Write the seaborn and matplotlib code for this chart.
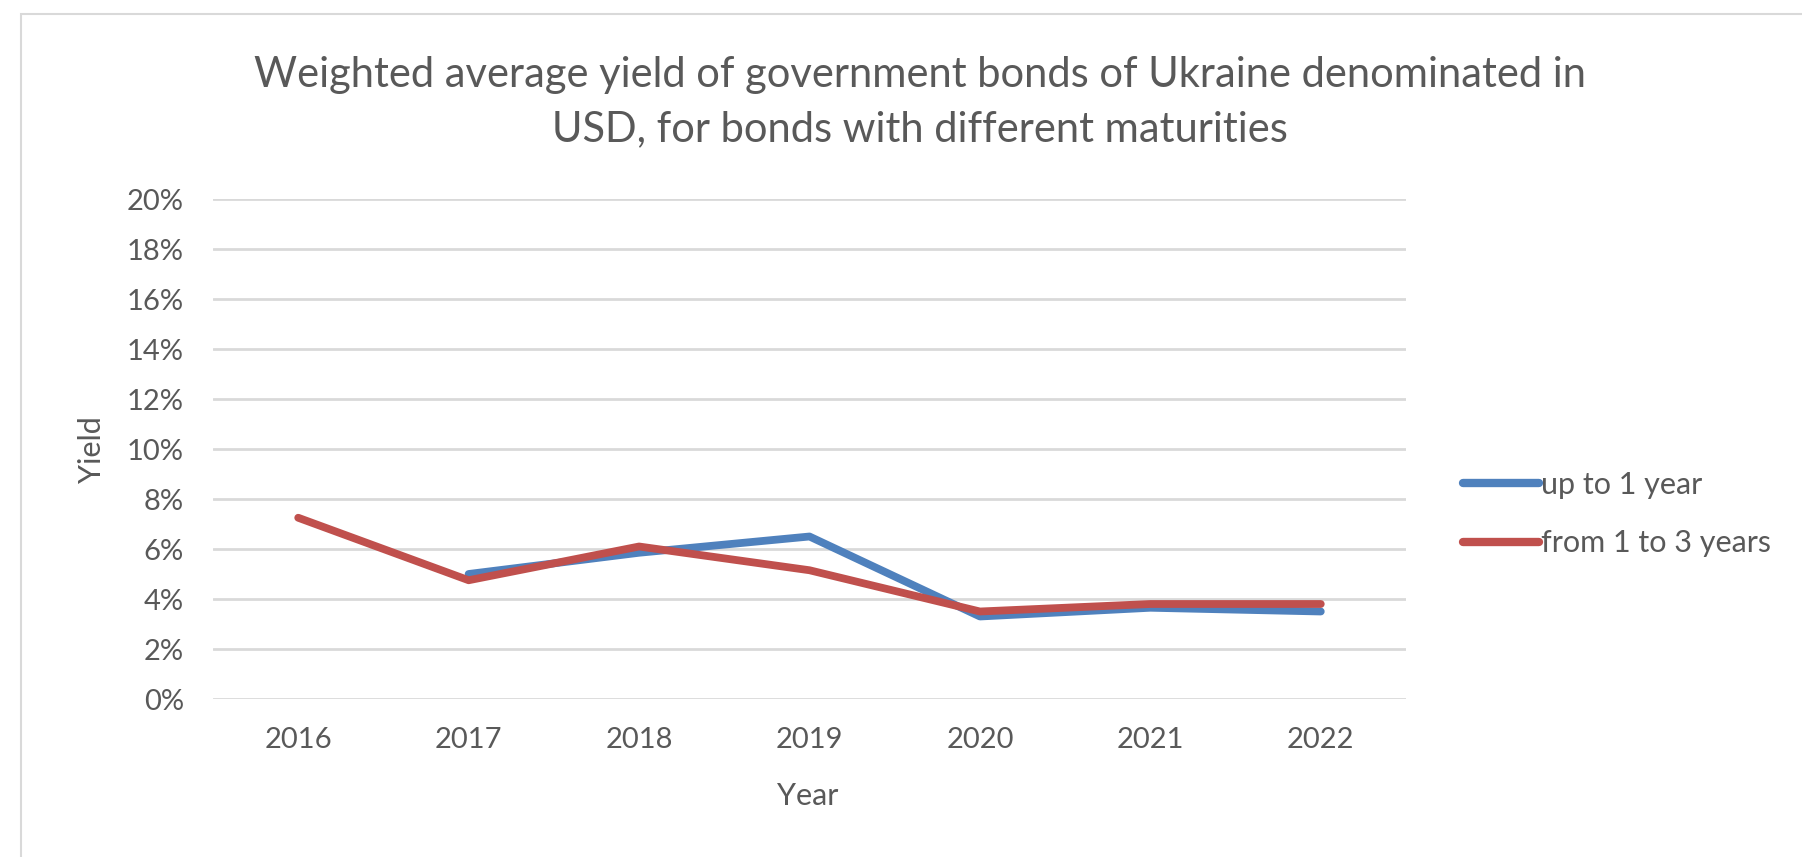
import numpy as np
import pandas as pd
import matplotlib
matplotlib.use("Agg")
import matplotlib.pyplot as plt
import seaborn as sns
from matplotlib.patches import Rectangle
from matplotlib.lines import Line2D

years = ["2016", "2017", "2018", "2019", "2020", "2021", "2022"]
up_to_1_year = [np.nan, 5.0, 5.85, 6.5, 3.3, 3.65, 3.5]
from_1_to_3_years = [7.25, 4.75, 6.1, 5.15, 3.5, 3.8, 3.8]
series_names = ["up to 1 year", "from 1 to 3 years"]
y_ticks = [0, 2, 4, 6, 8, 10, 12, 14, 16, 18, 20]

sns.set_theme(style="white")
plt.rcParams["font.family"] = ["Lato", "DejaVu Sans"]

df = pd.DataFrame({
    "Year": years * 2,
    "Yield": up_to_1_year + from_1_to_3_years,
    "Series": [series_names[0]] * len(years) + [series_names[1]] * len(years),
})

TXT = "#595959"
COLORS = ["#4F81BD", "#C0504D"]
fig = plt.figure(figsize=(18.02, 8.57), dpi=100)
fig.patches.append(Rectangle((21 / 1802, -0.1), 1.2, 1 - 14 / 857 + 0.1,
                             transform=fig.transFigure, fill=False,
                             edgecolor="#D9D9D9", linewidth=1.5))
ax = fig.add_axes([213 / 1802, 1 - 699 / 857, (1406 - 213) / 1802, 500 / 857])

sns.lineplot(data=df, x="Year", y="Yield", hue="Series", ax=ax,
             palette=COLORS, linewidth=5.6, sort=False, legend=False)
for ln in ax.get_lines():
    ln.set_solid_capstyle("round")
    ln.set_solid_joinstyle("round")

ax.set_xlim(-0.5, len(years) - 0.5)
ax.set_ylim(0, 20)
ax.set_yticks(y_ticks)
ax.set_yticklabels([f"{t}%" for t in y_ticks])
ax.set_xticks(range(len(years)))
ax.set_xticklabels(years)
ax.tick_params(axis="both", length=0, labelsize=21, colors=TXT)
ax.tick_params(axis="x", pad=20)
ax.tick_params(axis="y", pad=21)
for s in ax.spines.values():
    s.set_visible(False)
ax.yaxis.grid(True, color="#D9D9D9", linewidth=2)
ax.xaxis.grid(False)
ax.set_axisbelow(True)

ax.set_xlabel("Year", fontsize=22, color=TXT)
ax.set_ylabel("Yield", fontsize=22, color=TXT)
ax.xaxis.label.set_va("center")
ax.yaxis.label.set_va("center")
ax.xaxis.set_label_coords((808 - 213) / 1193, (699 - 796) / 500)
ax.yaxis.set_label_coords((92 - 213) / 1193, (699 - 450) / 500)

fig.text(920 / 1802, 1 - 75 / 857,
         "Weighted average yield of government bonds of Ukraine denominated in",
         ha="center", va="center", fontsize=30, color=TXT)
fig.text(920 / 1802, 1 - 129 / 857,
         "USD, for bonds with different maturities",
         ha="center", va="center", fontsize=30, color=TXT)

handles = [Line2D([0], [0], color=c, linewidth=6, solid_capstyle="round")
           for c in COLORS]
leg = fig.legend(handles, series_names, loc="center left",
                 bbox_to_anchor=(1463 / 1802, 1 - 514 / 857), frameon=False,
                 fontsize=22, handlelength=2.5, handletextpad=0.05,
                 labelspacing=1.0, borderpad=0, borderaxespad=0)
for t in leg.get_texts():
    t.set_color(TXT)

fig.savefig("out.png", dpi=100)
